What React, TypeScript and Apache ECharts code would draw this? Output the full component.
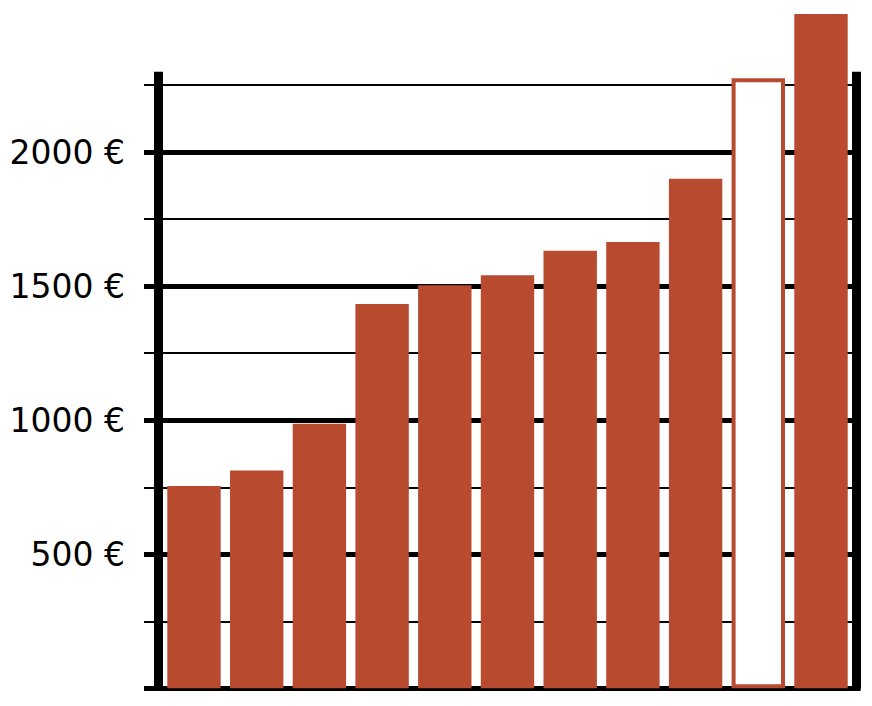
import React, { useEffect, useRef } from 'react';
import * as echarts from 'echarts';

const categories = ['1', '2', '3', '4', '5', '6', '7', '8', '9', '10', '11'];
const values = [755, 813, 987, 1434, 1504, 1541, 1632, 1665, 1901, 2276, 2516];
const outlinedIndex = 9;
const axisMax = 2300;
const majorMax = 2000;
const minorMax = 2250;
const majorStep = 500;
const minorStep = 250;

const BAR = '#B84A30';

export default function App() {
  const ref = useRef<HTMLDivElement>(null);
  useEffect(() => {
    if (!ref.current) return;
    const chart = echarts.init(ref.current, null, { renderer: 'svg' });
    const bottomY = 688.3;
    const scale = (bottomY - 71.8) / axisMax;
    const bottom = 706 - bottomY;
    chart.setOption({
      animation: false,
      backgroundColor: '#fff',
      grid: [
        { left: 162.65, right: 19.65, top: 71.8, bottom },
        { left: 144, right: 11.5, top: bottomY - majorMax * scale, bottom },
        { left: 144, right: 11.5, top: bottomY - minorMax * scale, bottom },
      ],
      xAxis: [
        {
          type: 'category', gridIndex: 0, data: categories,
          axisLine: { show: false }, axisTick: { show: false }, axisLabel: { show: false },
        },
        { type: 'value', gridIndex: 1, show: false, min: 0, max: 1 },
        { type: 'value', gridIndex: 2, show: false, min: 0, max: 1 },
      ],
      yAxis: [
        {
          type: 'value', gridIndex: 0, min: 0, max: axisMax, interval: majorStep,
          position: 'left', offset: 4.65,
          axisLine: { show: true, lineStyle: { color: '#000', width: 9, cap: 'butt' } },
          axisTick: { show: false },
          splitLine: { show: false },
          axisLabel: {
            margin: 33,
            color: '#000',
            fontSize: 33,
            fontFamily: 'DejaVu Sans',
            formatter: (v: number) => (v === 0 || v > majorMax ? '' : `${v} €`),
          },
        },
        {
          type: 'value', gridIndex: 0, min: 0, max: axisMax, interval: majorStep,
          position: 'right', offset: 3.65,
          axisLine: { show: true, lineStyle: { color: '#000', width: 9, cap: 'butt' } },
          axisTick: { show: false }, axisLabel: { show: false }, splitLine: { show: false },
        },
        {
          type: 'value', gridIndex: 1, min: 0, max: majorMax, interval: majorStep,
          axisLine: { show: false }, axisTick: { show: false }, axisLabel: { show: false },
          splitLine: { show: true, lineStyle: { color: '#000', width: 5, cap: 'butt' } },
        },
        {
          type: 'value', gridIndex: 2, min: 0, max: minorMax, interval: minorStep,
          axisLine: { show: false }, axisTick: { show: false }, axisLabel: { show: false },
          splitLine: { show: true, lineStyle: { color: '#000', width: 2, cap: 'butt' } },
        },
      ],
      series: [
        {
          type: 'bar',
          xAxisIndex: 0,
          yAxisIndex: 0,
          clip: false,
          barWidth: 53.4,
          z: 5,
          data: values.map((v, i) =>
            i === outlinedIndex
              ? { value: v, itemStyle: { color: '#fff', borderColor: BAR, borderWidth: 4 } }
              : { value: v, itemStyle: { color: BAR } }
          ),
        },
      ],
    });
    return () => chart.dispose();
  }, []);
  return (
    <div
      ref={ref}
      style={{ position: 'fixed', left: 0, top: 0, width: 872, height: 706 }}
    />
  );
}
